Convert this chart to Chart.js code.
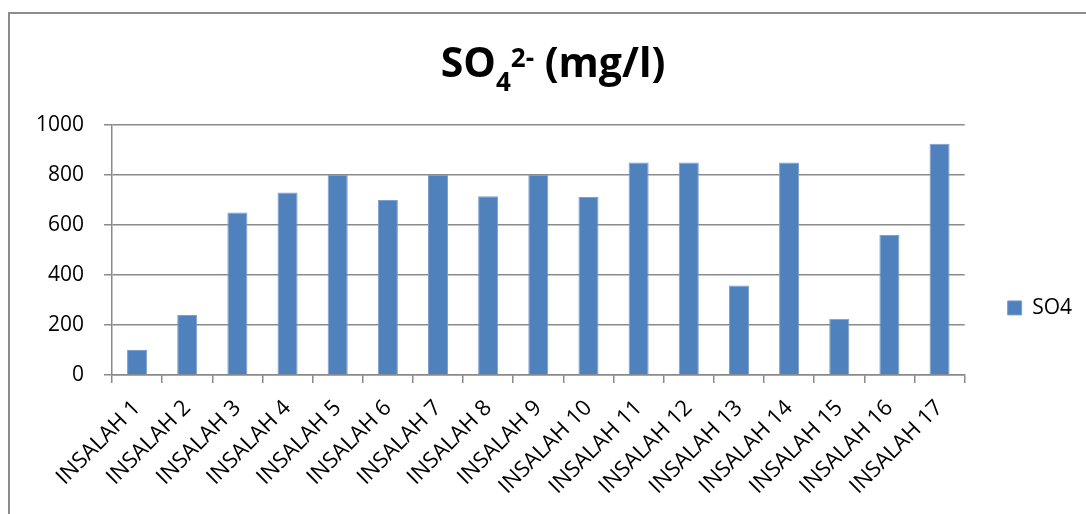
<!DOCTYPE html>
<html>
<head>
<meta charset="utf-8">
<script src="https://cdn.jsdelivr.net/npm/chart.js@4/dist/chart.umd.min.js"></script>
<style>
  html, body { margin: 0; padding: 0; background: #fff; }
  #wrap { position: relative; width: 1086px; height: 514px; }
</style>
</head>
<body>
<div id="wrap"><canvas id="so4Chart"></canvas></div>
<script>
// ——— data ———
const stations = [
  "INSALAH 1", "INSALAH 2", "INSALAH 3", "INSALAH 4", "INSALAH 5", "INSALAH 6",
  "INSALAH 7", "INSALAH 8", "INSALAH 9", "INSALAH 10", "INSALAH 11", "INSALAH 12",
  "INSALAH 13", "INSALAH 14", "INSALAH 15", "INSALAH 16", "INSALAH 17"
];
const so4Values = [100, 240, 650, 730, 800, 700, 800, 715, 800, 712, 850, 850, 358, 850, 225, 560, 925];
const seriesName = "SO4";
const yMin = 0, yMax = 1000, yStep = 200;

// title pieces: main text, subscript, superscript, main text
const titleParts = [
  { text: "SO", kind: "main" },
  { text: "4", kind: "sub" },
  { text: "2-", kind: "sup" },
  { text: " (mg/l)", kind: "main" },
];

const FONT = '"Open Sans", "DejaVu Sans", sans-serif';
const gridGray = "#8a8a8a";

// ——— frame around the chart (only left & top edges are visible) ———
const framePlugin = {
  id: "frame",
  beforeDraw(chart) {
    const ctx = chart.ctx;
    ctx.save();
    ctx.strokeStyle = "#8c8c8c";
    ctx.lineWidth = 2;
    ctx.beginPath();
    ctx.moveTo(9, chart.height);
    ctx.lineTo(9, 13);
    ctx.lineTo(chart.width, 13);
    ctx.stroke();
    ctx.restore();
  },
};

// ——— title with subscript / superscript ———
const titlePlugin = {
  id: "so4Title",
  afterDraw(chart) {
    const ctx = chart.ctx;
    const fonts = {
      main: "bold 41px " + FONT,
      sub: "bold 26px " + FONT,
      sup: "bold 26px " + FONT,
    };
    const shift = { main: 0, sub: 14, sup: -10 };
    const baseY = 77;
    ctx.save();
    let total = 0;
    titleParts.forEach((p) => {
      ctx.font = fonts[p.kind];
      p.w = ctx.measureText(p.text).width;
      total += p.w;
    });
    let x = (chart.width + 20) / 2 - total / 2;
    ctx.fillStyle = "#000";
    ctx.textBaseline = "alphabetic";
    ctx.textAlign = "left";
    titleParts.forEach((p) => {
      ctx.font = fonts[p.kind];
      ctx.fillText(p.text, x, baseY + shift[p.kind]);
      x += p.w;
    });
    ctx.restore();
  },
};

const ctx = document.getElementById("so4Chart").getContext("2d");
const so4Chart = new Chart(ctx, {
  type: "bar",
  data: {
    labels: stations,
    datasets: [
      {
        label: seriesName,
        data: so4Values,
        backgroundColor: "#4f81bd",
        borderColor: "#7e9fcb",
        borderWidth: 1,
        barPercentage: 0.4,
        categoryPercentage: 1.0,
      },
    ],
  },
  options: {
    responsive: true,
    maintainAspectRatio: false,
    animation: false,
    layout: { padding: { top: 125, left: 30, right: 4, bottom: 0 } },
    scales: {
      x: {
        grid: {
          display: true,
          drawOnChartArea: false,
          drawTicks: true,
          tickLength: 8,
          color: gridGray,
          lineWidth: 1.5,
          offset: true,
        },
        border: { display: true, color: gridGray, width: 1.5 },
        ticks: {
          autoSkip: false,
          maxRotation: 45,
          minRotation: 45,
          padding: 12,
          color: "#000",
          font: { family: FONT, size: 22 },
        },
        afterFit(scale) {
          scale.height = 139;
        },
      },
      y: {
        min: yMin,
        max: yMax,
        ticks: {
          stepSize: yStep,
          padding: 20,
          color: "#000",
          font: { family: FONT, size: 21 },
          callback: (val) => String(val),
        },
        grid: { color: gridGray, lineWidth: 1.5, tickLength: 8 },
        border: { display: true, color: gridGray, width: 1.5 },
        afterFit(scale) {
          scale.width = 82;
        },
      },
    },
    plugins: {
      title: { display: false },
      tooltip: { enabled: false },
      legend: {
        position: "right",
        align: "start",
        title: { display: true, text: "", padding: { top: 115, bottom: 0 } },
        labels: {
          boxWidth: 14,
          boxHeight: 14,
          padding: 43,
          color: "#000",
          font: { family: FONT, size: 21 },
        },
      },
    },
  },
  plugins: [framePlugin, titlePlugin],
});
</script>
</body>
</html>
